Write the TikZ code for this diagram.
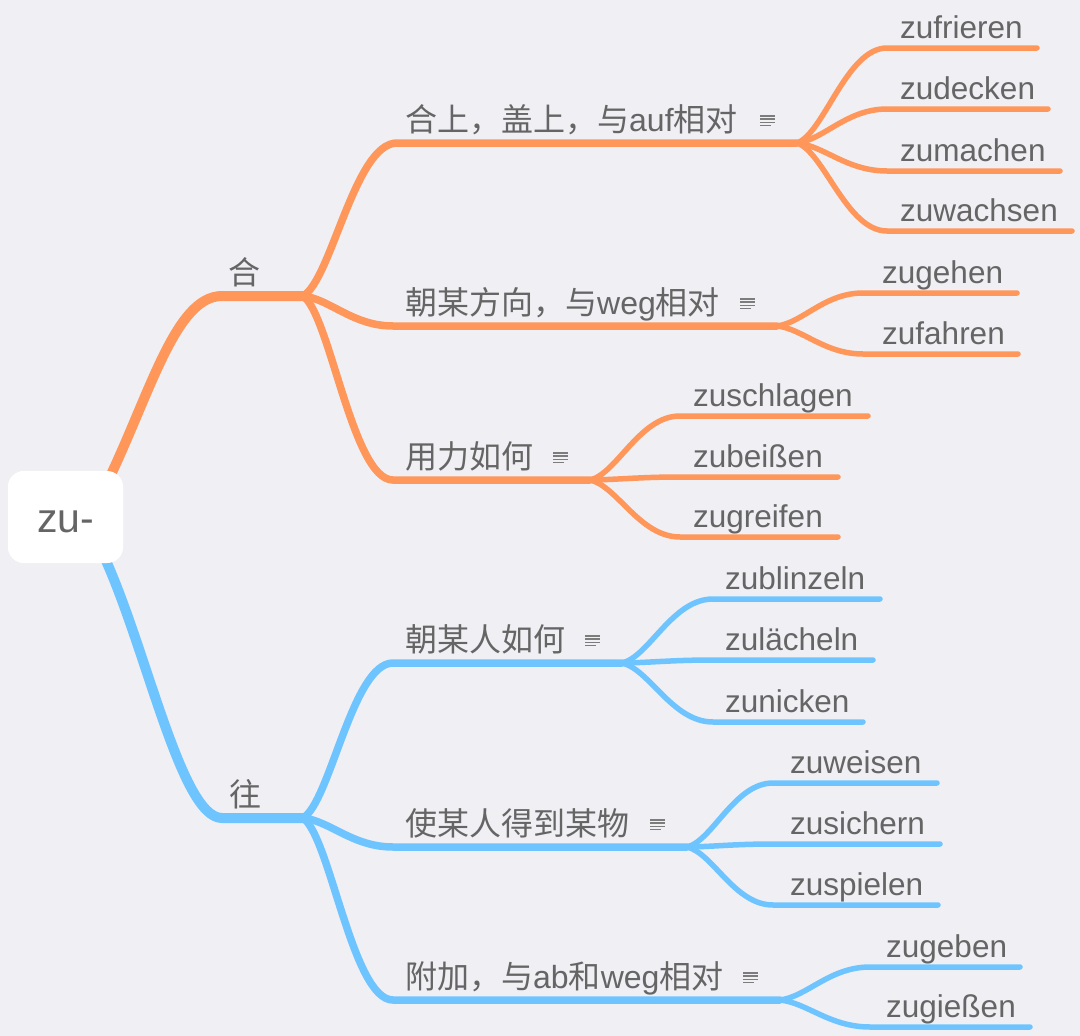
\documentclass[tikz,border=0pt]{standalone}
\usepackage{fontspec}
\setmainfont{Liberation Sans}
\newfontfamily\cjkfont{Noto Sans CJK SC}
\newcommand{\cjk}[1]{{\cjkfont #1}}
\usetikzlibrary{calc}
\definecolor{bg}{HTML}{EFEFF4}
\definecolor{org}{HTML}{FF965A}
\definecolor{blu}{HTML}{6EC4FF}
\definecolor{txt}{HTML}{656565}
\newcommand{\topic}[4]{\coordinate (#1-l) at (#2,#3); \coordinate (#1-r) at (#4,#3);}
\newcommand{\branchto}[3]{%
  \draw[#1] let \p1=(#2-r), \p2=(#3-l) in (\p1) .. controls ({\x1+0.3*(\x2-\x1)},{\y1+0.1*(\y2-\y1)}) and ({\x1+0.55*(\x2-\x1)},\y2) .. (\p2) -- (#3-r);}
\newcommand{\noteicon}[1]{%
  \foreach \k/\w in {0/15,1/15,2/15,3/11}{\draw[noteline] ($(#1-r)+(-37,-27.3+3.3*\k)$) -- ++(\w,0);}}
\begin{document}
\begin{tikzpicture}[x=1pt,y=-1pt,
  lone/.style={line width=10pt,line cap=round},
  ltwo/.style={line width=7.5pt,line cap=round},
  lthree/.style={line width=5.5pt,line cap=round},
  lbl/.style={inner sep=0pt,anchor=base west,text=txt,font=\fontsize{32}{36}\selectfont},
  leaf/.style={inner sep=0pt,anchor=base west,text=txt,font=\fontsize{31.5}{36}\selectfont},
  noteline/.style={line width=1.6pt,draw=txt!85}]
\fill[bg] (0,0) rectangle (1080,1036);
\useasboundingbox (0,0) rectangle (1080,1036);

% root box
\node[fill=white,rounded corners=16pt,minimum width=115pt,minimum height=92pt,inner sep=0pt] (root) at (65.5,517) {};

% level 1
\topic{he}{222}{296}{303}
\topic{wang}{222}{818}{303}
\node[lbl,anchor=base] (het) at (244,284) {\cjk{合}};
\node[lbl,anchor=base] (wangt) at (245,806) {\cjk{往}};

% level 2
\topic{A1}{397}{143}{797}
\topic{A2}{393}{326}{777}
\topic{A3}{393}{480}{590}
\topic{B1}{393}{663}{622}
\topic{B2}{393}{847}{687}
\topic{B3}{393}{1000}{780}
\node[lbl] (A1t) at (405,131) {\cjk{合上，盖上，与}auf\cjk{相对}};
\node[lbl] (A2t) at (405,314) {\cjk{朝某方向，与}weg\cjk{相对}};
\node[lbl] (A3t) at (405,468) {\cjk{用力如何}};
\node[lbl] (B1t) at (405,651) {\cjk{朝某人如何}};
\node[lbl] (B2t) at (405,835) {\cjk{使某人得到某物}};
\node[lbl] (B3t) at (405,988) {\cjk{附加，与}ab\cjk{和}weg\cjk{相对}};

% level 3
\topic{a11}{887}{48}{1037}
\topic{a12}{887}{109}{1048}
\topic{a13}{887}{171}{1060}
\topic{a14}{887}{231}{1072}
\topic{a21}{863}{293}{1017}
\topic{a22}{863}{354}{1018}
\topic{a31}{680}{416}{868}
\topic{a32}{680}{477}{838}
\topic{a33}{680}{537}{838}
\topic{b11}{713}{599}{880}
\topic{b12}{713}{660}{873}
\topic{b13}{713}{722}{863}
\topic{b21}{773}{783}{937}
\topic{b22}{773}{844}{940}
\topic{b23}{773}{905}{938}
\topic{b31}{870}{967}{1020}
\topic{b32}{870}{1027}{1030}
\node[leaf] (a11t) at (900,38.5) {zufrieren};
\node[leaf] (a12t) at (900,99.5) {zudecken};
\node[leaf] (a13t) at (900,161.5) {zumachen};
\node[leaf] (a14t) at (900,221.5) {zuwachsen};
\node[leaf] (a21t) at (882,283.5) {zugehen};
\node[leaf] (a22t) at (882,344.5) {zufahren};
\node[leaf] (a31t) at (693,406.5) {zuschlagen};
\node[leaf] (a32t) at (693,467.5) {zubeißen};
\node[leaf] (a33t) at (693,527.5) {zugreifen};
\node[leaf] (b11t) at (725,589.5) {zublinzeln};
\node[leaf] (b12t) at (725,650.5) {zulächeln};
\node[leaf] (b13t) at (725,712.5) {zunicken};
\node[leaf] (b21t) at (790,773.5) {zuweisen};
\node[leaf] (b22t) at (790,834.5) {zusichern};
\node[leaf] (b23t) at (790,895.5) {zuspielen};
\node[leaf] (b31t) at (886,957.5) {zugeben};
\node[leaf] (b32t) at (886,1017.5) {zugießen};

% connectors level 1
\draw[lone,org] ($(root.north east)+(-18,16)$) .. controls (150,395) and (175,296) .. (he-l) -- (he-r);
\draw[lone,blu] ($(root.south east)+(-23,-15)$) .. controls (145,640) and (180,818) .. (wang-l) -- (wang-r);

% connectors level 2
\branchto{ltwo,org}{he}{A1}
\branchto{ltwo,org}{he}{A2}
\branchto{ltwo,org}{he}{A3}
\branchto{ltwo,blu}{wang}{B1}
\branchto{ltwo,blu}{wang}{B2}
\branchto{ltwo,blu}{wang}{B3}

% connectors level 3
\foreach \c in {a11,a12,a13,a14}{\branchto{lthree,org}{A1}{\c}}
\foreach \c in {a21,a22}{\branchto{lthree,org}{A2}{\c}}
\foreach \c in {a31,a32,a33}{\branchto{lthree,org}{A3}{\c}}
\foreach \c in {b11,b12,b13}{\branchto{lthree,blu}{B1}{\c}}
\foreach \c in {b21,b22,b23}{\branchto{lthree,blu}{B2}{\c}}
\foreach \c in {b31,b32}{\branchto{lthree,blu}{B3}{\c}}

% note icons
\noteicon{A1}
\noteicon{A2}
\noteicon{A3}
\noteicon{B1}
\noteicon{B2}
\noteicon{B3}

% root box on top
\node[fill=white,rounded corners=16pt,minimum width=115pt,minimum height=92pt,inner sep=0pt] (rootcover) at (root.center) {};
\node[inner sep=0pt,anchor=base,text=txt,font=\fontsize{41}{44}\selectfont] (roott) at ($(root.south)+(0,-31)$) {zu-};
\end{tikzpicture}
\end{document}
